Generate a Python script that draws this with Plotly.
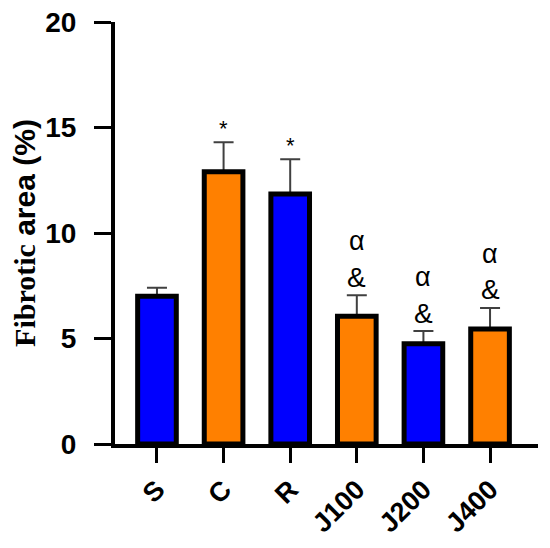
import plotly.graph_objects as go

# group data
groups = ["S", "C", "R", "J100", "J200", "J400"]
fibrotic = [7.0, 12.9, 11.85, 6.05, 4.75, 5.45]
sem = [0.4, 1.4, 1.65, 1.0, 0.6, 1.0]
bar_colors = ["#0000FF", "#FF8000", "#0000FF", "#FF8000", "#0000FF", "#FF8000"]
mark_low = ["", "*", "*", "&", "&", "&"]
mark_high = ["", "", "", "α", "α", "α"]
y_ticks = [0, 5, 10, 15, 20]

fig = go.Figure()
# filled bars + upper error bars
fig.add_trace(go.Bar(
    x=groups, y=fibrotic,
    width=0.58,
    marker=dict(color=bar_colors, line=dict(width=0)),
    error_y=dict(type="data", symmetric=False, array=sem,
                 arrayminus=[0] * len(sem), color="#404040",
                 thickness=2, width=10),
))
# black outlines on top so the lower error cap is hidden
fig.add_trace(go.Bar(
    x=groups, y=fibrotic,
    width=0.58,
    marker=dict(color="rgba(0,0,0,0)", line=dict(color="black", width=5)),
))

# significance marks above the error bars
for g, v, e, lo, hi in zip(groups, fibrotic, sem, mark_low, mark_high):
    if lo == "*":
        fig.add_annotation(x=g, y=v + e, text=lo, showarrow=False,
                           yanchor="middle", yshift=14,
                           font=dict(family="Liberation Sans", size=22, color="black"))
    elif lo:
        fig.add_annotation(x=g, y=v + e, text=lo, showarrow=False,
                           yanchor="middle", yshift=18,
                           font=dict(family="Liberation Sans", size=28, color="black"))
    if hi:
        fig.add_annotation(x=g, y=v + e, text=hi, showarrow=False,
                           yanchor="middle", yshift=54,
                           font=dict(family="Liberation Sans", size=27, color="black"))

# page body adds an 8px offset, margins compensate for it
fig.update_layout(
    width=550, height=548,
    margin=dict(l=107, r=20, t=14, b=112),
    plot_bgcolor="white", paper_bgcolor="white",
    showlegend=False,
    barmode="overlay",
    font=dict(family="Liberation Sans", color="black"),
)
fig.update_xaxes(
    range=[-0.63, 5.72], automargin=False,
    tickvals=groups, ticktext=["<b>%s</b>" % g for g in groups],
    tickangle=-45, tickfont=dict(size=27, color="black"),
    showline=True, linecolor="black", linewidth=4,
    ticks="outside", ticklen=15, tickwidth=3, tickcolor="black",
    showgrid=False, zeroline=False, ticklabeloverflow="allow",
)
fig.update_yaxes(
    range=[0, 20], automargin=False,
    tickvals=y_ticks, ticktext=["<b>%d</b>" % t for t in y_ticks],
    tickfont=dict(size=28, color="black"),
    showline=True, linecolor="black", linewidth=4,
    ticks="outside", ticklen=17, tickwidth=3, tickcolor="black",
    ticklabelstandoff=12, ticklabeloverflow="allow",
    showgrid=False, zeroline=False,
    title=dict(text="<span style='font-family:Liberation Serif'><b>Fibrotic</b></span><b> area (%)</b>",
               font=dict(size=30, color="black"), standoff=4),
)

fig.write_html("out.html")
